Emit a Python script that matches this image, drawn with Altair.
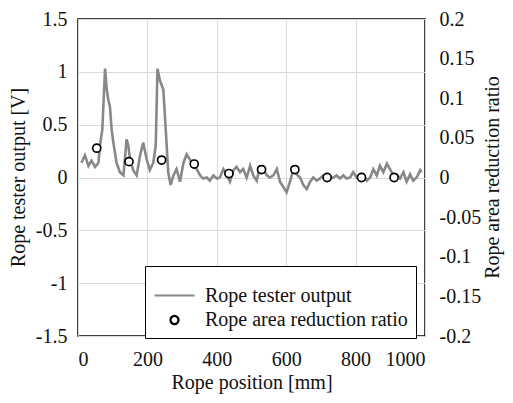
import altair as alt
import pandas as pd

# Rope tester output (line)
pos_mm = [10, 20, 30, 39, 49, 59, 63, 70, 78, 83, 87, 92, 97, 102, 111, 121, 131, 140, 145, 150,
          159, 169, 179, 188, 198, 207, 217, 224, 229, 236, 246, 254, 260, 267, 275, 284, 294, 304, 313, 323,
          332, 342, 352, 361, 371, 380, 390, 400, 409, 419, 428, 438, 448, 457, 467, 476, 486, 496, 505, 515,
          524, 534, 544, 553, 563, 573, 582, 592, 601, 611, 621, 630, 640, 649, 659, 669, 678, 688, 697, 707,
          717, 726, 736, 745, 755, 765, 774, 784, 793, 803, 813, 822, 832, 842, 851, 861, 870, 880, 890, 899,
          909, 918, 928, 938, 947, 957, 966, 976, 986, 990]
volts = [0.14, 0.21, 0.11, 0.16, 0.10, 0.14, 0.30, 0.45, 1.03, 0.83, 0.74, 0.67, 0.45, 0.33, 0.14, 0.05, 0.02, 0.36, 0.30, 0.17,
         0.07, 0.02, 0.21, 0.33, 0.17, 0.07, 0.14, 0.30, 1.03, 0.92, 0.83, 0.39, 0.05, -0.07, 0.02, 0.08, -0.04, 0.14, 0.22, 0.17,
         0.11, 0.08, 0.02, -0.01, 0.00, -0.03, 0.02, -0.01, 0.00, 0.08, 0.03, -0.04, 0.07, 0.10, 0.05, 0.08, 0.00, 0.11, 0.02, -0.03,
         0.10, 0.08, 0.02, 0.00, 0.02, 0.08, -0.04, -0.09, -0.14, -0.04, 0.08, 0.03, 0.00, -0.07, -0.11, -0.04, 0.00, -0.03, -0.01, 0.02,
         0.00, -0.01, 0.00, 0.02, -0.01, 0.02, -0.01, 0.00, 0.05, 0.00, -0.01, 0.03, -0.03, 0.00, 0.08, 0.02, 0.11, 0.05, 0.13, 0.08,
         0.02, 0.03, -0.01, 0.05, -0.04, 0.03, -0.03, 0.00, 0.07, 0.05]

# Rope area reduction ratio (circles)
pt_mm = [54, 147, 241, 335, 435, 529, 625, 718, 817, 911]
ratio = [0.037, 0.020, 0.022, 0.017, 0.005, 0.010, 0.010, 0.0, 0.0, 0.0]

series = ["Rope tester output", "Rope area reduction ratio"]

line_df = pd.DataFrame({"pos": pos_mm, "v": volts, "series": series[0]})
pt_df = pd.DataFrame({"pos": pt_mm, "r": ratio, "series": series[1]})

FONT = "Times New Roman, Times, Liberation Serif, DejaVu Serif, serif"
MINUS = "replace(datum.label, '\u2212', '-')"

x_enc = alt.X("pos:Q", scale=alt.Scale(domain=[0, 1000], nice=False),
              axis=alt.Axis(title="Rope position [mm]", values=[0, 200, 400, 600, 800, 1000], format="d",
                            grid=True, ticks=False, domain=False, labelPadding=13,
                            titleY=46, titleBaseline="middle"))

line = alt.Chart(line_df).mark_line(color="#888888", strokeWidth=2.6).encode(
    x=x_enc,
    y=alt.Y("v:Q", scale=alt.Scale(domain=[-1.5, 1.5], nice=False),
            axis=alt.Axis(title="Rope tester output [V]", orient="left",
                          values=[-1.5, -1, -0.5, 0, 0.5, 1, 1.5], format=".1~f", labelExpr=MINUS,
                          grid=True, ticks=False, domain=False, labelPadding=11,
                          titleX=-60, titleY=158, titleBaseline="middle")),
)

points = alt.Chart(pt_df).mark_point(filled=False, fill="white", strokeWidth=1.7, opacity=1).encode(
    x=x_enc,
    y=alt.Y("r:Q", scale=alt.Scale(domain=[-0.2, 0.2], nice=False),
            axis=alt.Axis(title="Rope area reduction ratio", orient="right", titleAngle=270,
                          values=[-0.2, -0.15, -0.1, -0.05, 0, 0.05, 0.1, 0.15, 0.2],
                          format=".2~f", labelExpr=MINUS,
                          grid=False, ticks=False, domain=False, labelPadding=14,
                          titleX=67, titleY=158, titleBaseline="middle")),
    color=alt.Color("series:N", scale=alt.Scale(domain=series, range=["#888888", "black"]),
                    legend=alt.Legend(title=None)),
    shape=alt.Shape("series:N", scale=alt.Scale(domain=series, range=["stroke", "circle"]),
                    legend=alt.Legend(title=None)),
    size=alt.Size("series:N", scale=alt.Scale(domain=series, range=[1600, 65]),
                  legend=alt.Legend(title=None)),
)

chart = alt.layer(line, points).resolve_scale(y="independent").properties(
    width=347, height=317,
    autosize=alt.AutoSizeParams(type="none"),
    padding={"left": 70, "top": 11, "right": 80, "bottom": 58},
    background="white",
).configure(
    font=FONT
).configure_view(
    stroke="black", strokeWidth=1.5
).configure_axis(
    labelFont=FONT, titleFont=FONT, labelFontSize=20, titleFontSize=20,
    labelColor="#111", titleColor="#111", titleFontWeight="normal",
    gridColor="#d9d9d9", gridWidth=1,
).configure_legend(
    orient="none", legendX=67, legendY=247,
    strokeColor="black", fillColor="white", padding=8,
    labelFont=FONT, labelFontSize=20, labelColor="#111", labelLimit=400,
    symbolStrokeWidth=2.2, labelOffset=9, rowPadding=4, cornerRadius=0,
)

chart.save("out.html", embed_options={"renderer": "svg", "actions": False})
